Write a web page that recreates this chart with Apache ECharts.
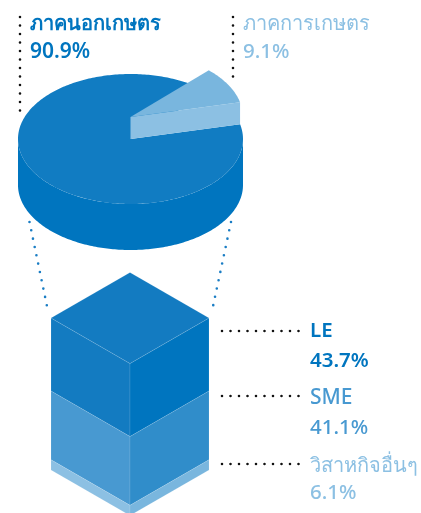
<!DOCTYPE html>
<html>
<head>
<meta charset="utf-8">
<style>html,body{margin:0;padding:0;background:#fff}#chart{width:421px;height:513px}</style>
<script src="https://cdn.jsdelivr.net/npm/echarts@6/dist/echarts.min.js"></script>
</head>
<body>
<div id="chart"></div>
<script>
const pieNames = ['ภาคนอกเกษตร', 'ภาคการเกษตร'];
const pieValues = [90.9, 9.1];
const cubeNames = ['LE', 'SME', 'วิสาหกิจอื่นๆ'];
const cubeValues = [43.7, 41.1, 6.1];

const pieTop = '#117cc2';
const pieSide = '#0075bf';
const wedgeTop = '#79b6de';
const wedgeSide = '#8cc0e3';
const cubeLeft = ['#137bc1', '#4899d1', '#8cc0e3'];
const cubeRight = ['#0075bf', '#308dca', '#79b6de'];
const textColors = ['#0075bf', '#4899d1', '#8cc0e3'];

const wedgeStart = 13.1; // degrees, counter-clockwise from 3 o'clock
const pieThickness = 46;
const wedgeLift = 22;
const cubeDepth = 45.5;
const fontFamily = '"Noto Sans", sans-serif';

const rad = (d) => (d * Math.PI) / 180;
const arc = (api, from, to, dy) => {
  const pts = [];
  const steps = Math.ceil(Math.abs(to - from));
  for (let i = 0; i <= steps; i++) {
    const a = rad(from + ((to - from) * i) / steps);
    const p = api.coord([Math.cos(a), Math.sin(a)]);
    pts.push([p[0], p[1] + dy]);
  }
  return pts;
};

const renderPie = (params, api) => {
  const centre = api.coord([0, 0]);
  const sweep = (pieValues[1] / 100) * 360;
  if (params.dataIndex === 0) {
    const lower = arc(api, 180, 360, 0);
    const side = lower.concat(arc(api, 360, 180, pieThickness));
    const top = [centre].concat(arc(api, wedgeStart + sweep, wedgeStart + 360, 0));
    return {
      type: 'group',
      children: [
        { type: 'polygon', shape: { points: side }, style: { fill: pieSide } },
        { type: 'polygon', shape: { points: top }, style: { fill: pieTop } },
      ],
    };
  }
  const apex = [centre[0], centre[1] - wedgeLift];
  const rim = arc(api, wedgeStart, wedgeStart + sweep, -wedgeLift);
  const end = rim[0];
  return {
    type: 'group',
    children: [
      {
        type: 'polygon',
        shape: { points: [apex, end, [end[0], end[1] + wedgeLift], centre] },
        style: { fill: wedgeSide },
      },
      { type: 'polygon', shape: { points: [apex].concat(rim) }, style: { fill: wedgeTop } },
    ],
  };
};

const renderCube = (params, api) => {
  const i = params.dataIndex;
  const from = cubeValues.slice(0, i).reduce((a, b) => a + b, 0);
  const to = from + cubeValues[i];
  const edge = { stroke: 'rgba(255,255,255,0.18)', lineWidth: 0.6 };
  const at = (x, v, dy) => {
    const p = api.coord([x, v]);
    return [p[0], p[1] + (dy || 0)];
  };
  const children = [
    {
      type: 'polygon',
      shape: { points: [at(-1, from), at(0, from, cubeDepth), at(0, to, cubeDepth), at(-1, to)] },
      style: { fill: cubeLeft[i], ...edge },
    },
    {
      type: 'polygon',
      shape: { points: [at(0, from, cubeDepth), at(1, from), at(1, to), at(0, to, cubeDepth)] },
      style: { fill: cubeRight[i], ...edge },
    },
  ];
  if (i === 0) {
    children.push({
      type: 'polygon',
      shape: { points: [at(-1, 0), at(0, 0, -cubeDepth), at(1, 0), at(0, 0, cubeDepth)] },
      style: { fill: cubeLeft[0], ...edge },
    });
  }
  return { type: 'group', children };
};

const dotted = (x1, y1, x2, y2, color) => ({
  type: 'line',
  silent: true,
  shape: { x1, y1, x2, y2 },
  style: { stroke: color, lineWidth: 2.6, lineCap: 'round', lineDash: [0, 8.5] },
});

// y is the text baseline; zrender only has top/middle/bottom, so centre on the digit height
const label = (text, x, y, color, size, weight) => ({
  type: 'text',
  silent: true,
  x,
  y: y - size * 0.36 + 1,
  style: {
    text,
    fill: color,
    font: `${weight || 500} ${size}px ${fontFamily}`,
    align: 'left',
    verticalAlign: 'middle',
  },
});

const chart = echarts.init(document.getElementById('chart'));
chart.setOption({
  animation: false,
  backgroundColor: '#fff',
  grid: [
    { left: 18, top: 74, width: 225, height: 130 },
    { left: 51, top: 318, width: 158, height: 152 },
  ],
  xAxis: [
    { type: 'value', gridIndex: 0, min: -1, max: 1, show: false },
    { type: 'value', gridIndex: 1, min: -1, max: 1, show: false },
  ],
  yAxis: [
    { type: 'value', gridIndex: 0, min: -1, max: 1, show: false },
    { type: 'value', gridIndex: 1, min: 0, max: 90.9, inverse: true, show: false },
  ],
  graphic: {
    elements: [
      dotted(20, 17, 20, 117, '#111'),
      dotted(233, 17, 233, 83, '#111'),
      dotted(29.5, 222, 48, 311, '#1a7dc4'),
      dotted(231, 222, 212, 311, '#1a7dc4'),
      dotted(222, 331, 300, 331, '#111'),
      dotted(222, 396, 300, 396, '#111'),
      dotted(222, 464, 300, 464, '#111'),
      label(pieNames[0], 30, 30, textColors[0], 20, 600),
      label(pieValues[0].toFixed(1) + '%', 30, 59, textColors[0], 21, 600),
      label(pieNames[1], 243, 30, wedgeSide, 20),
      label(pieValues[1].toFixed(1) + '%', 243, 59, wedgeSide, 20.5),
      label(cubeNames[0], 310, 338, textColors[0], 20.5, 600),
      label(cubeValues[0].toFixed(1) + '%', 310, 368, textColors[0], 20.5, 600),
      label(cubeNames[1], 310, 405, textColors[1], 21),
      label(cubeValues[1].toFixed(1) + '%', 310, 435, textColors[1], 20.5),
      label(cubeNames[2], 310, 472, textColors[2], 20),
      label(cubeValues[2].toFixed(1) + '%', 310, 500, textColors[2], 20.5),
    ],
  },
  series: [
    {
      type: 'custom',
      xAxisIndex: 0,
      yAxisIndex: 0,
      coordinateSystem: 'cartesian2d',
      renderItem: renderPie,
      data: pieValues.map((v, i) => ({ name: pieNames[i], value: [0, 0, v] })),
      silent: true,
    },
    {
      type: 'custom',
      xAxisIndex: 1,
      yAxisIndex: 1,
      coordinateSystem: 'cartesian2d',
      renderItem: renderCube,
      data: cubeValues.map((v, i) => ({ name: cubeNames[i], value: [0, 0, v] })),
      silent: true,
    },
  ],
});
</script>
</body>
</html>
